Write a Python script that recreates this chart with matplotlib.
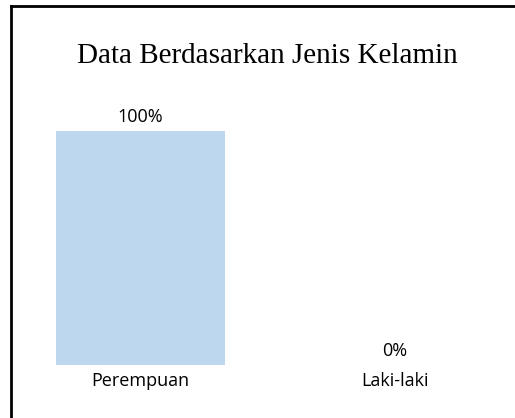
import matplotlib
matplotlib.use("Agg")
import matplotlib.pyplot as plt
from matplotlib.lines import Line2D

categories = ["Perempuan", "Laki-laki"]
values = [1.0, 0.0]
value_labels = ["100%", "0%"]
title = "Data Berdasarkan Jenis Kelamin"

W, H = 515, 418
fig = plt.figure(figsize=(W / 100, H / 100), dpi=100)

def fx(px):
    return px / W

def fy(py):
    return 1 - py / H

# axes: x from 10px to 515px, y from 131px (1.0) to 365px (0)
ax = fig.add_axes([fx(10), fy(365), fx(505), (365 - 131) / H])
x = list(range(len(categories)))
ax.bar(x, values, width=0.664, color="#bdd7ee")
ax.set_xlim(-130.5 / 254.5, 374.5 / 254.5)
ax.set_ylim(0, 1)
for s in ax.spines.values():
    s.set_visible(False)
ax.set_yticks([])
ax.set_xticks(x)
ax.set_xticklabels(categories, fontsize=13, family="Open Sans")
ax.tick_params(axis="x", length=0, pad=5)
for xi, v, lab in zip(x, values, value_labels):
    ax.annotate(lab, (xi, v), xytext=(0, 3.5), textcoords="offset points",
                ha="center", va="bottom", fontsize=13, family="Open Sans",
                annotation_clip=False)

fig.text(fx(267), fy(63), title, ha="center", va="baseline",
         fontsize=21, family="Liberation Serif")

# outer border (top and left visible)
fig.add_artist(Line2D([fx(10.5), fx(514)], [fy(5.5), fy(5.5)], color="black", lw=2))
fig.add_artist(Line2D([fx(11), fx(11)], [fy(5.5), fy(418)], color="black", lw=2))

fig.savefig("out.png", dpi=100)
